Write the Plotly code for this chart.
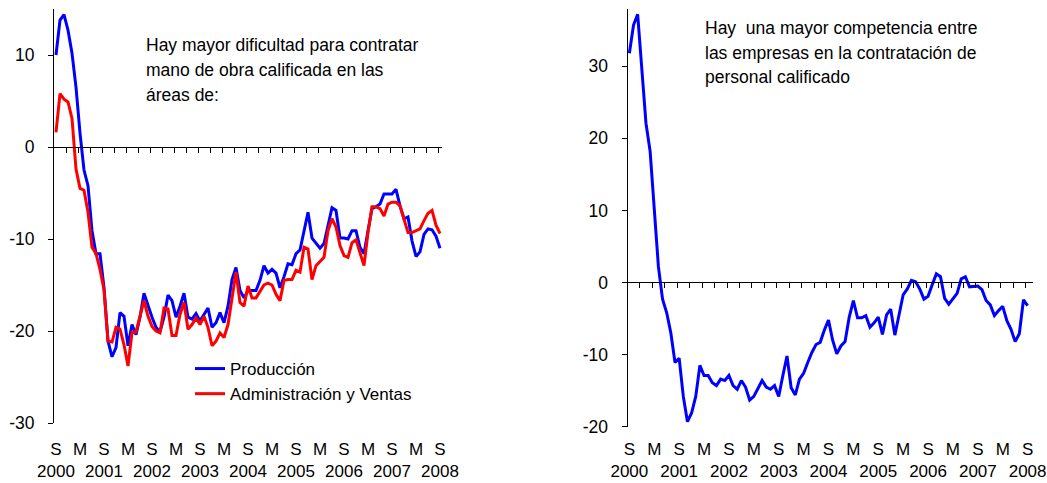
import plotly.graph_objects as go

# ---- data: monthly series, Sep 2000 .. Sep 2008 (97 months) ----
produccion = [
    10.0, 13.8, 14.4, 12.7, 10.2, 6.5, 1.5, -2.5, -4.2, -9.1,
    -11.6, -11.6, -15.3, -21.1, -22.8, -21.8, -18.0, -18.4, -21.6, -19.3,
    -20.4, -18.5, -15.9, -17.3, -18.5, -19.6, -20.1, -18.5, -16.1, -16.7,
    -18.5, -17.3, -15.9, -18.5, -18.7, -18.1, -18.9, -18.2, -17.5, -19.6,
    -19.1, -18.0, -19.1, -17.3, -14.4, -13.1, -15.6, -16.4, -15.6, -15.6,
    -15.6, -14.5, -12.9, -13.7, -13.3, -13.7, -15.3, -14.1, -12.7, -12.8,
    -11.6, -11.2, -9.3, -7.1, -9.9, -10.5, -11.0, -10.5, -8.6, -6.6,
    -6.9, -9.9, -9.9, -10.0, -9.1, -9.1, -10.9, -11.6, -9.1, -6.7,
    -6.5, -6.2, -5.1, -5.1, -5.1, -4.6, -6.4, -7.8, -7.6, -10.2,
    -11.9, -11.4, -9.5, -8.9, -9.0, -9.7, -11.0,
]
admin_ventas = [
    1.6, 5.8, 5.2, 4.9, 3.1, -2.4, -4.5, -4.7, -7.1, -10.9,
    -11.6, -13.3, -15.5, -21.1, -21.2, -19.6, -19.8, -21.5, -23.8, -20.2,
    -20.1, -18.5, -16.7, -18.4, -19.5, -20.0, -20.2, -17.5, -17.6, -20.5,
    -20.5, -18.2, -16.9, -19.8, -19.3, -18.6, -19.3, -18.4, -19.6, -21.6,
    -21.1, -20.2, -20.7, -19.3, -16.4, -13.6, -16.9, -17.3, -15.1, -16.4,
    -16.4, -15.7, -15.0, -14.8, -15.0, -16.0, -16.7, -14.5, -14.4, -14.4,
    -13.4, -13.6, -10.9, -11.1, -14.4, -12.9, -12.4, -12.0, -9.1, -7.8,
    -8.7, -10.7, -11.8, -12.0, -10.4, -10.1, -11.5, -12.9, -9.3, -6.5,
    -6.5, -6.7, -7.5, -6.2, -6.0, -6.0, -6.4, -8.0, -9.3, -9.3,
    -9.1, -8.9, -8.0, -7.2, -6.9, -8.5, -9.4,
]
competencia = [
    31.8, 35.7, 37.2, 29.9, 22.1, 18.2, 9.8, 2.2, -2.3, -4.2,
    -7.0, -11.1, -10.5, -15.8, -19.3, -18.1, -15.8, -11.5, -12.9, -12.9,
    -13.9, -14.3, -13.4, -13.6, -12.9, -14.3, -14.8, -13.6, -14.5, -16.3,
    -15.8, -14.8, -13.6, -14.5, -14.8, -14.3, -15.8, -12.9, -10.2, -14.6,
    -15.6, -13.4, -12.6, -11.1, -9.7, -8.6, -8.3, -6.6, -5.2, -8.0,
    -9.9, -8.8, -8.2, -4.8, -2.5, -4.9, -4.9, -4.6, -6.2, -5.6,
    -4.8, -7.2, -4.5, -3.7, -7.3, -4.5, -1.7, -0.9, 0.3, 0.1,
    -0.9, -2.3, -1.9, -0.3, 1.2, 0.8, -2.2, -3.0, -2.2, -1.5,
    0.5, 0.8, -0.6, -0.6, -0.5, -1.0, -2.5, -3.1, -4.6, -3.9,
    -3.3, -5.3, -6.5, -8.2, -7.1, -2.4, -3.2,
]
months = list(range(len(produccion)))

# category labels every six months (S = septiembre, M = marzo)
label_months = list(range(0, 97, 6))
years = list(range(2000, 2009))
label_text = [f"S<br>{years[i // 2]}" if i % 2 == 0 else "M" for i in range(len(label_months))]

left_yticks = [-30, -20, -10, 0, 10]
right_yticks = [-20, -10, 0, 10, 20, 30]

left_texto = ["Hay mayor dificultad para contratar",
              "mano de obra calificada en las",
              "áreas de:"]
right_texto = ["Hay\u00a0 una mayor competencia entre",
               "las empresas en la contratación de",
               "personal calificado"]

# ---- layout geometry (pixels of a 1047x483 page) ----
W, H = 1047, 483
FONT = "Arial, Liberation Sans, sans-serif"
FS = 17.5


def fx(p):
    return p / W


def fy(p):
    return 1 - p / H


left_x = [fx(54), fx(442.4)]
left_y = [fy(423), fy(9)]
right_x = [fx(627.5), fx(1033)]
right_y = [fy(426.7), fy(8.5)]
label_row = fy(423)

left_yrange = [-30, 15]
right_yrange = [-20, 38]
left_xrange = [-0.5, 96.6]
right_xrange = [-0.45, 97.3]


def zero_pos(dom, rng):
    return dom[0] + (dom[1] - dom[0]) * (0 - rng[0]) / (rng[1] - rng[0])


def quarter_ticks(rng):
    return [rng[0] + 3 * k for k in range(1, 33)]


fig = go.Figure()
fig.add_trace(go.Scatter(x=months, y=produccion, mode="lines", name="Producción",
                         line=dict(color="#0000FF", width=3), xaxis="x", yaxis="y"))
fig.add_trace(go.Scatter(x=months, y=admin_ventas, mode="lines", name="Administración y Ventas",
                         line=dict(color="#FF0000", width=3), xaxis="x", yaxis="y"))
fig.add_trace(go.Scatter(x=months, y=competencia, mode="lines", showlegend=False,
                         line=dict(color="#0000FF", width=3), xaxis="x2", yaxis="y2"))
# empty traces so the bottom label axes belong to a subplot
for xa, ya in (("x3", "y"), ("x4", "y2")):
    fig.add_trace(go.Scatter(x=[label_months[0]], y=[None], mode="lines", showlegend=False,
                             hoverinfo="skip", xaxis=xa, yaxis=ya))

zero_axis = dict(showline=True, linecolor="black", linewidth=1, ticks="outside",
                 ticklen=5, tickcolor="black", tickwidth=1, showticklabels=False,
                 showgrid=False, zeroline=False, anchor="free", fixedrange=True)
label_axis = dict(showline=False, ticks="", showgrid=False, zeroline=False,
                  tickvals=label_months, ticktext=label_text, anchor="free",
                  tickfont=dict(family=FONT, size=17, color="black"),
                  ticklabelstandoff=14, ticklabeloverflow="allow",
                  tickangle=0, fixedrange=True, position=label_row)
y_axis = dict(showline=True, linecolor="black", linewidth=1, ticks="outside",
              ticklen=5, tickcolor="black", showgrid=False, zeroline=False,
              tickfont=dict(family=FONT, size=FS, color="black"),
              ticklabelstandoff=10, fixedrange=True)

fig.update_layout(
    width=W, height=H,
    margin=dict(l=0, r=0, t=0, b=0, autoexpand=False),
    paper_bgcolor="white", plot_bgcolor="white",
    font=dict(family=FONT, size=FS, color="black"),
    xaxis=dict(zero_axis, domain=left_x, range=left_xrange,
               position=zero_pos(left_y, left_yrange),
               tickvals=quarter_ticks(left_xrange)),
    yaxis=dict(y_axis, domain=left_y, range=left_yrange, anchor="x",
               tickvals=left_yticks, ticktext=[str(v) for v in left_yticks]),
    xaxis2=dict(zero_axis, domain=right_x, range=right_xrange,
                position=zero_pos(right_y, right_yrange),
                tickvals=quarter_ticks(right_xrange)),
    yaxis2=dict(y_axis, domain=right_y, range=right_yrange, anchor="x2",
                tickvals=right_yticks, ticktext=[str(v) for v in right_yticks]),
    xaxis3=dict(label_axis, overlaying="x", range=left_xrange),
    xaxis4=dict(label_axis, overlaying="x2", range=right_xrange),
    legend=dict(x=fx(190), y=fy(351), xanchor="left", yanchor="top",
                bgcolor="rgba(0,0,0,0)", borderwidth=0,
                font=dict(family=FONT, size=17, color="black")),
    showlegend=True,
)

# explanatory text inside each panel
for i, line in enumerate(left_texto):
    fig.add_annotation(text=line, xref="paper", yref="paper", x=fx(144), y=fy(45 + 25 * i),
                       xanchor="left", yanchor="middle", showarrow=False,
                       font=dict(family=FONT, size=FS, color="black"))
for i, line in enumerate(right_texto):
    fig.add_annotation(text=line, xref="paper", yref="paper", x=fx(703), y=fy(28 + 24.5 * i),
                       xanchor="left", yanchor="middle", showarrow=False,
                       font=dict(family=FONT, size=FS, color="black"))

fig.write_html("out.html")
